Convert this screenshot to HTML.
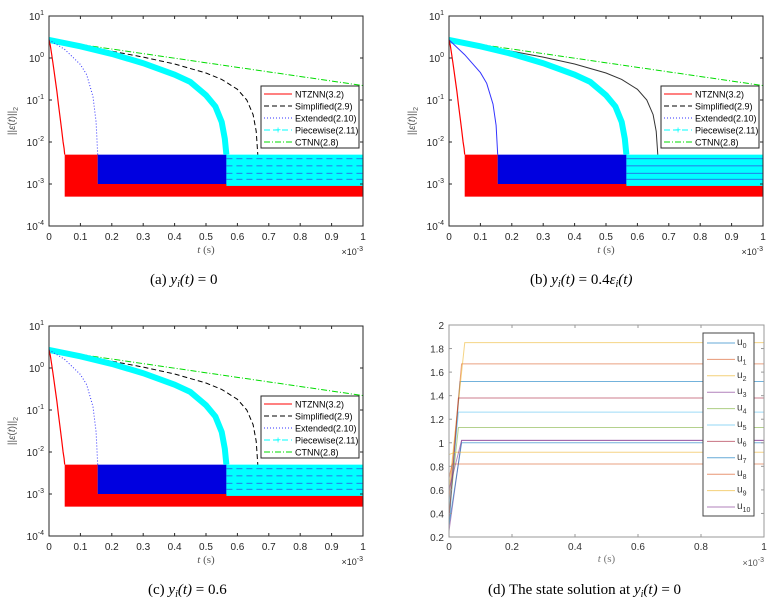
<!DOCTYPE html>
<html><head><meta charset="utf-8"><style>
body{margin:0;background:#fff;}
svg{display:block;font-family:"Liberation Sans",sans-serif;}
.cap{font-family:"Liberation Serif",serif;font-size:15px;}
</style></head><body>
<svg id="fig" width="782" height="602" viewBox="0 0 782 602" xmlns="http://www.w3.org/2000/svg"></svg>
<script>
// ---- Data ----
const xTicks=[0,0.1,0.2,0.3,0.4,0.5,0.6,0.7,0.8,0.9,1];
const xTickLabels=["0","0.1","0.2","0.3","0.4","0.5","0.6","0.7","0.8","0.9","1"];
const yExps=[1,0,-1,-2,-3,-4];
const seriesNames=["NTZNN(3.2)","Simplified(2.9)","Extended(2.10)","Piecewise(2.11)","CTNN(2.8)"];
const ntznnT=[0,0.004,0.008,0.012,0.016,0.02,0.025,0.03,0.035,0.04,0.045,0.048,0.05];
const ntznnV=[2.7,2.0,1.3,0.8,0.5,0.3,0.16,0.08,0.04,0.02,0.01,0.007,0.005];
const simpT=[0,0.2,0.3,0.4,0.5,0.55,0.6,0.63,0.65,0.66,0.665];
const simpV=[2.7,1.45,1.05,0.72,0.44,0.31,0.18,0.1,0.045,0.018,0.005];
const extT=[0,0.05,0.1,0.12,0.14,0.15,0.155];
const extV=[2.7,1.6,0.7,0.4,0.12,0.03,0.005];
const extTb=[0,0.05,0.1,0.12,0.14,0.15,0.155];
const extVb=[2.7,1.2,0.45,0.25,0.08,0.025,0.005];
const pwT=[0,0.1,0.2,0.3,0.4,0.45,0.5,0.53,0.55,0.56,0.565];
const pwV=[2.7,1.9,1.25,0.75,0.4,0.27,0.13,0.07,0.03,0.012,0.005];
const ctnnT=[0,1];
const ctnnV=[2.7,0.22];
// noise bands
const bandStart=[0.05,0.05,0.155,0.565];
const bandEnd=[1,0.155,0.565,1];
const bandLow=[0.0005,0.001,0.001,0.0009];
const bandHigh=[0.001,0.005,0.005,0.005];
const bandColor=["#ff0000","#ff0000","#0000e0","#00ffff"];
// panel d
const dYTicks=[0.2,0.4,0.6,0.8,1,1.2,1.4,1.6,1.8,2];
const dYTickLabels=["0.2","0.4","0.6","0.8","1","1.2","1.4","1.6","1.8","2"];
const dXTicks=[0,0.2,0.4,0.6,0.8,1];
const dXTickLabels=["0","0.2","0.4","0.6","0.8","1"];
const uNames=["0","1","2","3","4","5","6","7","8","9","10"];
const uStart=[0.3,0.5,0.6,0.25,0.4,0.45,0.35,0.3,0.7,0.9,0.6];
const uRiseT=[0.035,0.04,0.05,0.04,0.03,0.03,0.03,0.04,0.01,0.02,0.04];
const uFinal=[1.52,1.67,1.85,1.02,1.13,1.26,1.38,1.0,0.82,0.92,1.02];
const uColor=["#0072BD","#D95319","#EDB120","#7E2F8E","#77AC30","#4DBEEE","#A2142F","#0072BD","#D95319","#EDB120","#7E2F8E"];

const NS="http://www.w3.org/2000/svg";
const svg=document.getElementById('fig');
function mk(tag,attrs,parent){const e=document.createElementNS(NS,tag);for(const k in attrs)e.setAttribute(k,attrs[k]);(parent||svg).appendChild(e);return e;}

function logPanel(ox,oy,variant,cap,capX){
  const g=mk('g',{});
  
  
  const X0=ox+49,X1=ox+363,YT=oy+16,YB=oy+226;
  const sx=t=>X0+t*(X1-X0);
  const sy=v=>YT+(1-Math.log10(v))/5*(YB-YT);
  const pth=(T,V)=>T.map((t,i)=>(i?'L':'M')+sx(t).toFixed(1)+' '+sy(V[i]).toFixed(1)).join(' ');
  for(let i=0;i<bandStart.length;i++){
    const r=mk('rect',{x:sx(bandStart[i]),y:sy(bandHigh[i]),width:sx(bandEnd[i])-sx(bandStart[i]),height:sy(bandLow[i])-sy(bandHigh[i]),fill:bandColor[i]},g);
    
    
  }
  for(const v of [0.0013,0.0018,0.0027,0.004]){
    const l=mk('line',{x1:sx(0.565),x2:sx(1),y1:sy(v),y2:sy(v),stroke:'#3050e0','stroke-width':0.8,'stroke-dasharray':variant=='b'?'':'6 4'},g);
    
    
  }
  const curves=[
    [ctnnT,ctnnV,'#00dd00',1,'6 2 1 2','ctnn-line'],
    [simpT,simpV,variant=='b'?'#333':'#000',1,variant=='b'?'':'5 3','simplified-line'],
    [pwT,pwV,'#00ffff',6,'','piecewise-line'],
    [variant=='b'?extTb:extT,variant=='b'?extVb:extV,'#3333ff',1,variant=='b'?'':'1 2','extended-line'],
    [ntznnT,ntznnV,'#ff0000',1.2,'','ntznn-line']];
  for(const c of curves){
    const p=mk('path',{d:pth(c[0],c[1]),fill:'none',stroke:c[2],'stroke-width':c[3],'stroke-dasharray':c[4]},g);
    
    
  }
  const box=mk('rect',{x:X0,y:YT,width:X1-X0,height:YB-YT,fill:'none',stroke:'#262626','stroke-width':1},g);
  
  
  xTicks.forEach((t,i)=>{
    mk('line',{x1:sx(t),x2:sx(t),y1:YB,y2:YB-3,stroke:'#262626'},g);
    mk('line',{x1:sx(t),x2:sx(t),y1:YT,y2:YT+3,stroke:'#262626'},g);
    const tx=mk('text',{x:sx(t),y:YB+14,'font-size':10,'text-anchor':'middle',fill:'#262626'},g);
    tx.textContent=xTickLabels[i];
    
    
  });
  yExps.forEach(e=>{
    const y=sy(Math.pow(10,e));
    mk('line',{x1:X0,x2:X0+3,y1:y,y2:y,stroke:'#262626'},g);
    mk('line',{x1:X1,x2:X1-3,y1:y,y2:y,stroke:'#262626'},g);
    const tx=mk('text',{x:X0-5,y:y+4,'font-size':10,'text-anchor':'end',fill:'#262626'},g);
    tx.innerHTML='10<tspan dy="-5" font-size="7">'+e+'</tspan>';
    
    
  });
  const yl=mk('text',{x:0,y:0,'font-size':10,fill:'#555','text-anchor':'middle',transform:`translate(${ox+15},${(YT+YB)/2}) rotate(-90)`},g);
  yl.innerHTML='||<tspan font-style="italic">ε</tspan>(<tspan font-style="italic">t</tspan>)||<tspan font-size="7" dy="3">2</tspan>';
  
  
  const xl=mk('text',{x:(X0+X1)/2,y:YB+27,'font-size':11,fill:'#555','text-anchor':'middle','font-family':'Liberation Serif'},g);
  xl.innerHTML='<tspan font-style="italic">t</tspan> (s)';
  
  
  const xe=mk('text',{x:X1,y:YB+29,'font-size':9,fill:'#262626','text-anchor':'end'},g);
  xe.innerHTML='×10<tspan dy="-4" font-size="7">-3</tspan>';
  
  
  const LX=ox+261,LY=oy+86;
  const lg=mk('g',{},g);
  
  
  mk('rect',{x:LX,y:LY,width:98,height:62,fill:'#fff',stroke:'#262626'},lg);
  const ls=[['#ff0000',''],['#000','5 3'],['#3333ff','1 2'],['#00ffff','6 3'],['#00dd00','6 2 1 2']];
  seriesNames.forEach((n,i)=>{
    const y=LY+8+i*12;
    mk('line',{x1:LX+3,x2:LX+31,y1:y,y2:y,stroke:ls[i][0],'stroke-width':1,'stroke-dasharray':ls[i][1]},lg);
    if(i==3){mk('text',{x:LX+17,y:y+3.5,'font-size':10,fill:'#00ffff','text-anchor':'middle'},lg).textContent='+';}
    const t=mk('text',{x:LX+34,y:y+3.5,'font-size':9,fill:'#000'},lg);
    t.textContent=n;
    
    
  });
  const c=mk('text',{x:capX,y:oy+284,class:'cap'},g);
  c.innerHTML=cap;
  
  
}
const yi='<tspan font-style="italic">y<tspan font-size="10" dy="3">i</tspan><tspan dy="-3">(t)</tspan></tspan>';
logPanel(0,0,'a','(a)  '+yi+' = 0',150);
logPanel(400,0,'b','(b)  '+yi+' = 0.4<tspan font-style="italic">ε<tspan font-size="10" dy="3">i</tspan><tspan dy="-3">(t)</tspan></tspan>',530);
logPanel(0,310,'c','(c)  '+yi+' = 0.6',148);

(function(){
  const g=mk('g',{});
  
  
  const X0=449,X1=764,YT=325,YB=537;
  const sx=t=>X0+t*(X1-X0);
  const sy=v=>YB-(v-0.2)/1.8*(YB-YT);
  uFinal.forEach((f,i)=>{
    const p=mk('path',{d:`M${sx(0)} ${sy(uStart[i])} L${sx(uRiseT[i])} ${sy(f)} L${sx(1)} ${sy(f)}`,fill:'none',stroke:uColor[i],'stroke-width':1,opacity:0.55},g);
    
    
  });
  mk('rect',{x:X0,y:YT,width:X1-X0,height:YB-YT,fill:'none',stroke:'#999'},g);
  dXTicks.forEach((t,i)=>{
    mk('line',{x1:sx(t),x2:sx(t),y1:YB,y2:YB-3,stroke:'#999'},g);
    mk('line',{x1:sx(t),x2:sx(t),y1:YT,y2:YT+3,stroke:'#999'},g);
    const tx=mk('text',{x:sx(t),y:YB+13,'font-size':10,'text-anchor':'middle',fill:'#333'},g);
    tx.textContent=dXTickLabels[i];
    
    
  });
  dYTicks.forEach((v,i)=>{
    mk('line',{x1:X0,x2:X0+3,y1:sy(v),y2:sy(v),stroke:'#999'},g);
    mk('line',{x1:X1,x2:X1-3,y1:sy(v),y2:sy(v),stroke:'#999'},g);
    const tx=mk('text',{x:X0-5,y:sy(v)+4,'font-size':10,'text-anchor':'end',fill:'#333'},g);
    tx.textContent=dYTickLabels[i];
    
    
  });
  const xl=mk('text',{x:(X0+X1)/2,y:YB+25,'font-size':11,fill:'#777','text-anchor':'middle','font-family':'Liberation Serif'},g);
  xl.innerHTML='<tspan font-style="italic">t</tspan> (s)';
  
  
  const xe=mk('text',{x:X1,y:YB+29,'font-size':9,fill:'#555','text-anchor':'end'},g);
  xe.innerHTML='×10<tspan dy="-4" font-size="7">-3</tspan>';
  
  
  const lg=mk('g',{},g);
  
  
  mk('rect',{x:703,y:333,width:51,height:183,fill:'#fff',stroke:'#444'},lg);
  uNames.forEach((n,i)=>{
    const y=343+i*16.4;
    mk('line',{x1:707,x2:735,y1:y,y2:y,stroke:uColor[i],opacity:0.6},lg);
    const t=mk('text',{x:737,y:y+2,'font-size':10,fill:'#333'},lg);
    t.innerHTML='u<tspan font-size="7" dy="3">'+n+'</tspan>';
    
    
  });
  const c=mk('text',{x:488,y:594,class:'cap'},g);
  c.innerHTML='(d)  The state solution at '+yi+' = 0';
  
  
})();
</script>
</body></html>
